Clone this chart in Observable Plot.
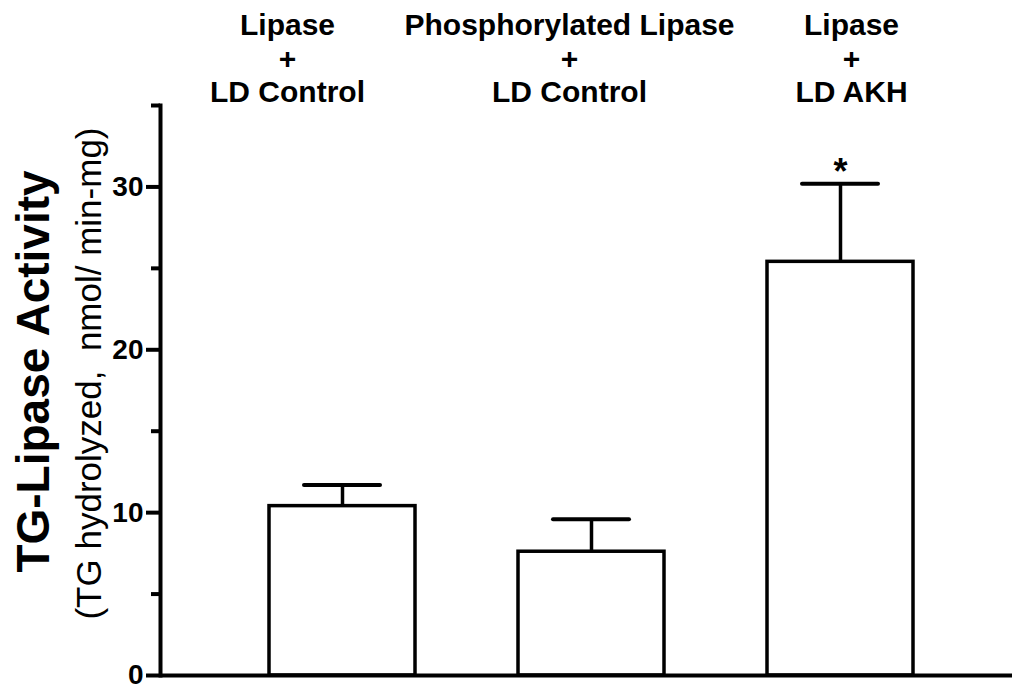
<!DOCTYPE html>
<html>
<head>
<meta charset="utf-8">
<script src="https://cdn.jsdelivr.net/npm/d3@7"></script>
<script src="https://cdn.jsdelivr.net/npm/@observablehq/plot@0.6"></script>
<style>
  html, body { margin: 0; padding: 0; background: #fff; }
  #chart { width: 1012px; height: 686px; }
</style>
</head>
<body>
<div id="chart"></div>
<script>
// Experimental groups (lipase preparation + lipid droplet source)
const groups = [
  "Lipase\n+\nLD Control",
  "Phosphorylated Lipase\n+\nLD Control",
  "Lipase\n+\nLD AKH"
];
// Mean TG-lipase activity (nmol TG hydrolyzed / min-mg) and SEM
const means = [10.4, 7.6, 25.4];
const sems = [1.3, 2.0, 4.8];
// Significance markers
const marks = ["", "", "*"];
// Y-axis ticks
const majorTicks = [0, 10, 20, 30];
const minorTicks = [5, 15, 25, 35];
const yTitle = "TG-Lipase Activity";
const ySubtitle = "(TG hydrolyzed,  nmol/ min-mg)";

const data = groups.map((g, i) => ({
  group: g,
  mean: means[i],
  upper: means[i] + sems[i],
  mark: marks[i]
}));

const font = "'Liberation Sans', Arial, Helvetica, sans-serif";

// Group header drawn above its bar, nudged horizontally
const header = (i, dx) => Plot.text([data[i]], {
  x: "group",
  text: "group",
  frameAnchor: "top",
  lineAnchor: "top",
  dy: -94,
  dx,
  fontSize: 30,
  fontWeight: "bold",
  lineHeight: 1.117,
  fill: "black"
});

const chart = Plot.plot({
  width: 1012,
  height: 686,
  marginLeft: 160,
  marginRight: 0,
  marginTop: 105,
  marginBottom: 11,
  style: { fontFamily: font, background: "white", color: "black" },
  x: {
    type: "band",
    domain: groups,
    range: [268, 914],
    paddingInner: 0.413,
    paddingOuter: 0,
    axis: null
  },
  y: { domain: [0, 35] },
  marks: [
    Plot.barY(data, {
      x: "group",
      y: "mean",
      fill: "white",
      stroke: "black",
      strokeWidth: 3.5
    }),
    Plot.ruleX(data, {
      x: "group",
      y1: "mean",
      y2: "upper",
      stroke: "black",
      strokeWidth: 3.5
    }),
    Plot.tickY(data, {
      x: "group",
      y: "upper",
      stroke: "black",
      strokeWidth: 4,
      strokeLinecap: "round",
      insetLeft: 35,
      insetRight: 35
    }),
    Plot.text(data, {
      x: "group",
      y: "upper",
      text: "mark",
      dy: -11,
      fontSize: 36,
      fontWeight: "bold",
      fill: "black"
    }),
    // Axes
    Plot.frame({ anchor: "left", stroke: "black", strokeWidth: 4 }),
    Plot.ruleY([0], { stroke: "black", strokeWidth: 4 }),
    Plot.axisY({
      ticks: majorTicks,
      tickSize: 14,
      strokeWidth: 4,
      text: null,
      label: null
    }),
    Plot.axisY({
      ticks: minorTicks,
      tickSize: 9,
      strokeWidth: 4,
      text: null,
      label: null
    }),
    // Tick labels
    Plot.text(majorTicks, {
      y: d => d,
      text: d => String(d),
      frameAnchor: "left",
      textAnchor: "end",
      dx: -17,
      fontSize: 28,
      fontWeight: "bold",
      fill: "black"
    }),
    // Axis titles
    Plot.text([yTitle], {
      text: d => d,
      frameAnchor: "left",
      textAnchor: "middle",
      rotate: -90,
      lineAnchor: "bottom",
      dx: -112,
      dy: -19,
      fontSize: 46,
      fontWeight: "bold",
      fill: "black"
    }),
    Plot.text([ySubtitle], {
      text: d => d,
      frameAnchor: "left",
      textAnchor: "middle",
      rotate: -90,
      lineAnchor: "bottom",
      dx: -60,
      dy: -17,
      fontSize: 35,
      fill: "black"
    }),
    // Group headers
    header(0, -55),
    header(1, -22),
    header(2, 11)
  ]
});

document.getElementById("chart").appendChild(chart);
</script>
</body>
</html>
